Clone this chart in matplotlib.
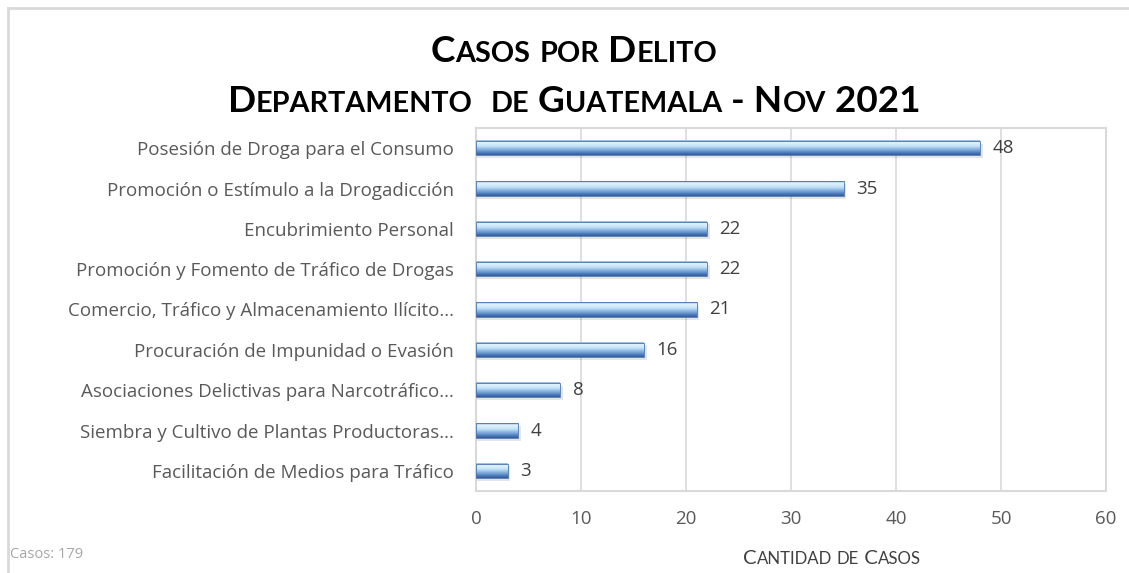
import numpy as np
import matplotlib
matplotlib.use('Agg')
import matplotlib.pyplot as plt
from matplotlib.colors import LinearSegmentedColormap
from matplotlib.patches import Rectangle
from matplotlib.lines import Line2D

# data
delitos = [
    'Posesión de Droga para el Consumo',
    'Promoción o Estímulo a la Drogadicción',
    'Encubrimiento Personal',
    'Promoción y Fomento de Tráfico de Drogas',
    'Comercio, Tráfico y Almacenamiento Ilícito...',
    'Procuración de Impunidad o Evasión',
    'Asociaciones Delictivas para Narcotráfico...',
    'Siembra y Cultivo de Plantas Productoras...',
    'Facilitación de Medios para Tráfico',
]
casos = [48, 35, 22, 22, 21, 16, 8, 4, 3]
xticks = [0, 10, 20, 30, 40, 50, 60]
total_casos = 179

plt.rcParams['font.family'] = ['Open Sans', 'DejaVu Sans']

W, H = 1129, 573
fig = plt.figure(figsize=(W / 100, H / 100), dpi=100)
fig.patch.set_facecolor('white')

# outer chart border (only left/top visible in the crop)
fig.lines.append(Line2D([8 / W, 8 / W], [0, 1 - 8 / H], transform=fig.transFigure,
                        color='#d9d9d9', linewidth=2))
fig.lines.append(Line2D([8 / W, 1], [1 - 8 / H, 1 - 8 / H], transform=fig.transFigure,
                        color='#d9d9d9', linewidth=2))

ax = fig.add_axes([476 / W, 1 - 491 / H, (1106 - 476) / W, (491 - 128) / H])

# bar gradient, top to bottom
grad = LinearSegmentedColormap.from_list('barra', [
    (0.0, '#8fb6de'), (0.15, '#e2f3fd'), (0.40, '#c3e3f8'),
    (0.65, '#80abdb'), (0.85, '#4d7cbc'), (1.0, '#35599a')])
g = np.linspace(0, 1, 64).reshape(-1, 1)

bh = 0.36
for i, v in enumerate(casos):
    # soft shadow
    ax.add_patch(Rectangle((0, i - bh / 2 + 0.07), v + 0.25, bh, facecolor='#000000',
                           alpha=0.10, edgecolor='none', zorder=2))
    ax.imshow(g, cmap=grad, aspect='auto', extent=[0, v, i + bh / 2, i - bh / 2],
              zorder=3, interpolation='bilinear')
    ax.add_patch(Rectangle((0, i - bh / 2), v, bh, fill=False, edgecolor='#4a74b0',
                           linewidth=0.6, zorder=4))
    ax.text(v + 1.2, i, str(v), va='center', ha='left', fontsize=13.5, color='#404040')

ax.set_xlim(0, 60)
ax.set_ylim(len(casos) - 0.5, -0.5)
ax.set_xticks(xticks)
ax.set_xticklabels([str(t) for t in xticks], fontsize=13.5, color='#595959')
ax.set_yticks(range(len(delitos)))
ax.set_yticklabels(delitos, fontsize=13.5, color='#595959')
ax.tick_params(axis='both', length=0)
ax.tick_params(axis='x', pad=14)
ax.tick_params(axis='y', pad=16)
ax.grid(axis='x', color='#d9d9d9', linewidth=1.2)
ax.set_axisbelow(True)
for s in ax.spines.values():
    s.set_color('#d9d9d9')
    s.set_linewidth(1.5)


def small_caps(fig, s, cx, cy, size, ratio=0.78, width=None, **kw):
    """draw s in small caps centred at pixel (cx, cy); returns the size used"""
    runs = []
    for c in s:
        big = not c.islower()
        if runs and runs[-1][1] == big:
            runs[-1][0] += c
        else:
            runs.append([c, big])
    r = fig.canvas.get_renderer()
    if width is not None:
        # scale the size so the whole line fits the target width
        tot = 0
        for txt, big in runs:
            t = fig.text(0, 0, txt.upper(), fontsize=size * (1 if big else ratio), **kw)
            tot += t.get_window_extent(r).width
            t.remove()
        size = size * width / tot
    texts = []
    tot = 0
    for txt, big in runs:
        t = fig.text(0, 0, txt.upper(), fontsize=size * (1 if big else ratio),
                     va='baseline', ha='left', **kw)
        w = t.get_window_extent(r).width
        texts.append((t, tot))
        tot += w
    x0 = cx - tot / 2
    for t, off in texts:
        t.set_position(((x0 + off) / W, 1 - cy / H))
    return size


tfont = ['Lato', 'DejaVu Sans']
sz = small_caps(fig, 'Departamento  de Guatemala - Nov 2021', 574, 112, 22,
                width=692, fontweight='bold', color='black', family=tfont)
small_caps(fig, 'Casos por Delito', 574, 62, sz, fontweight='bold', color='black',
           family=tfont)
small_caps(fig, 'Cantidad de Casos', 832, 564, 13, ratio=0.82, width=178,
           color='#404040', family=tfont)

fig.text(10 / W, 1 - 558 / H, 'Casos: ' + str(total_casos),
         fontsize=10.5, color='#a6a6a6', ha='left', va='baseline')

fig.savefig('out.png', dpi=100)
